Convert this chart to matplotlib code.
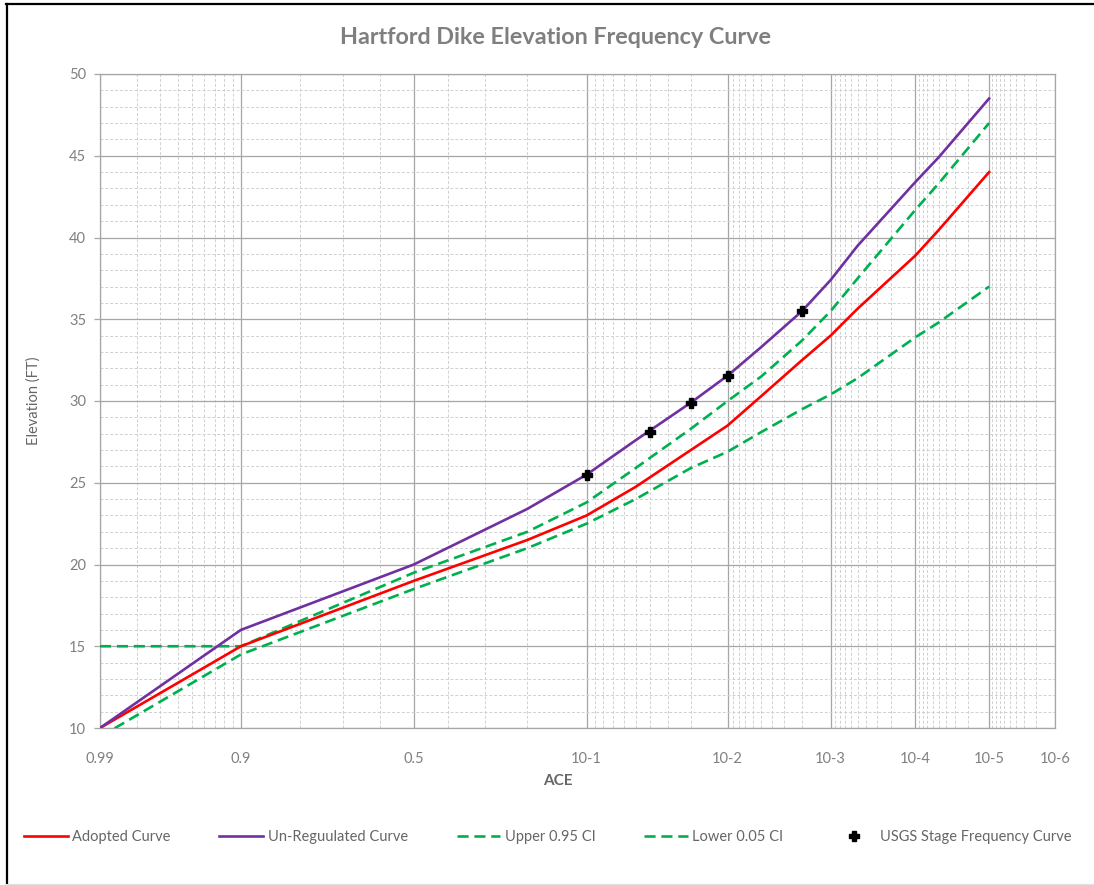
import numpy as np
import matplotlib
matplotlib.use('Agg')
import matplotlib.pyplot as plt
from matplotlib.ticker import FixedLocator, FixedFormatter, NullFormatter
from matplotlib.lines import Line2D
from statistics import NormalDist

# ---------------- data ----------------
ace = [0.99, 0.9, 0.5, 0.2, 0.1, 0.05, 0.02, 0.01, 0.005, 0.002, 0.001,
       0.0005, 0.0001, 0.00005, 0.00001]
adopted = [10, 15, 19, 21.5, 23.0, 24.75, 27.0, 28.5, 30.3, 32.5, 34.0,
           35.65, 38.9, 40.45, 44.0]
unregulated = [10, 16, 20, 23.4, 25.5, 27.6, 29.9, 31.55, 33.3, 35.5, 37.4,
               39.5, 43.4, 44.9, 48.5]
upper_ci = [15, 15, 19.5, 22.0, 23.8, 25.9, 28.3, 30.0, 31.5, 33.7, 35.5,
            37.5, 41.7, 43.3, 47.0]
lower_ci = [9.46, 14.5, 18.5, 21.0, 22.5, 24.0, 25.9, 26.9, 28.1, 29.5, 30.4,
            31.4, 33.9, 34.8, 37.0]
usgs_ace = [0.1, 0.04, 0.02, 0.01, 0.002]
usgs_elev = [25.5, 28.1, 29.9, 31.55, 35.5]

major_ace = [0.99, 0.9, 0.5, 0.1, 0.01, 0.001, 0.0001, 0.00001, 0.000001]
major_labels = ['0.99', '0.9', '0.5', '10-1', '10-2', '10-3', '10-4', '10-5', '10-6']
minor_ace = ([0.98, 0.97, 0.96, 0.95, 0.94, 0.93, 0.92, 0.91,
              0.8, 0.7, 0.6, 0.4, 0.3, 0.2] +
             [k * 10.0 ** (-n) for n in range(2, 7) for k in range(2, 10)])

# ---------------- probability scale ----------------
_nd = NormalDist()
_ppf = np.vectorize(lambda p: _nd.inv_cdf(p) if np.isfinite(p) else np.nan, otypes=[float])
_cdf = np.vectorize(lambda z: _nd.cdf(z) if np.isfinite(z) else np.nan, otypes=[float])


def fwd(p):
    p = np.clip(np.asarray(p, dtype=float), 1e-12, 1 - 1e-12)
    return _ppf(p)


def inv(z):
    return _cdf(np.asarray(z, dtype=float))


plt.rcParams['font.family'] = ['Lato', 'DejaVu Sans']
W, H = 1094, 885
fig = plt.figure(figsize=(W / 100, H / 100), dpi=100)
ax = fig.add_axes([100 / W, 1 - 728 / H, (1055 - 100) / W, (728 - 74) / H])

ax.set_xscale('function', functions=(fwd, inv))
ax.set_xlim(0.99, 1e-6)
ax.set_ylim(10, 50)

red = '#FF0000'
purple = '#7030A0'
green = '#00B050'
dash = (0, (4.2, 2.2))

ax.plot(ace, adopted, color=red, lw=1.9, label='Adopted Curve', zorder=4)
ax.plot(ace, unregulated, color=purple, lw=1.9, label='Un-Reguulated Curve', zorder=4)
ax.plot(ace, upper_ci, color=green, lw=1.9, ls=dash, label='Upper 0.95 CI', zorder=3)
ax.plot(ace, lower_ci, color=green, lw=1.9, ls=dash, label='Lower 0.05 CI', zorder=3)
ax.plot(usgs_ace, usgs_elev, ls='none', marker='P', ms=7.5, color='black',
        label='USGS Stage Frequency Curve', zorder=5)

# ticks
ax.xaxis.set_major_locator(FixedLocator(major_ace))
ax.xaxis.set_major_formatter(FixedFormatter(major_labels))
ax.xaxis.set_minor_locator(FixedLocator(minor_ace))
ax.xaxis.set_minor_formatter(NullFormatter())
ax.set_yticks(np.arange(10, 51, 5))
ax.set_yticks(np.arange(10, 51, 1), minor=True)

tc = '#808080'
ax.tick_params(axis='both', which='major', labelsize=10.5, labelcolor=tc,
               color='#a6a6a6', length=4, width=0.9)
ax.tick_params(axis='x', which='major', length=0, pad=17)
ax.tick_params(axis='y', which='major', pad=6)
ax.tick_params(axis='both', which='minor', length=0)

ax.grid(True, which='major', color='#a6a6a6', lw=0.9, ls='-', zorder=1)
ax.grid(True, which='minor', color='#d0d0d0', lw=0.7, ls=(0, (3, 2)), zorder=0)
ax.set_axisbelow(True)
for s in ax.spines.values():
    s.set_color('#a6a6a6')
    s.set_linewidth(0.9)

ax.set_xlabel('ACE', fontsize=11, fontweight='bold', color='#666666')
ax.xaxis.set_label_coords((558 - 100) / 955, (728 - 781) / 654)
ax.xaxis.label.set_va('center')
ax.set_ylabel('Elevation (FT)', fontsize=10.5, color='#666666', labelpad=20)
fig.text(555 / W, 1 - 37 / H, 'Hartford Dike Elevation Frequency Curve', ha='center',
         va='center', fontsize=16.8, fontweight='bold', color='#7f7f7f')

handles, labels = ax.get_legend_handles_labels()
leg = fig.legend(handles, labels, loc='center', bbox_to_anchor=(548 / W, 1 - 837 / H),
                 ncol=5, frameon=False, fontsize=10.5, handlelength=3.0,
                 handletextpad=0.3, columnspacing=3.35, labelcolor='#666666')

# chart border
fig.add_artist(Line2D([7 / W, 7 / W], [0, 1 - 4 / H], color='black', lw=1.6,
                      transform=fig.transFigure))
fig.add_artist(Line2D([6 / W, 1], [1 - 4 / H, 1 - 4 / H], color='black', lw=1.6,
                      transform=fig.transFigure))
fig.add_artist(Line2D([6 / W, 1], [1.5 / H, 1.5 / H], color='#e0e0e0', lw=0.8,
                      transform=fig.transFigure))

fig.savefig('out.png', dpi=100)
